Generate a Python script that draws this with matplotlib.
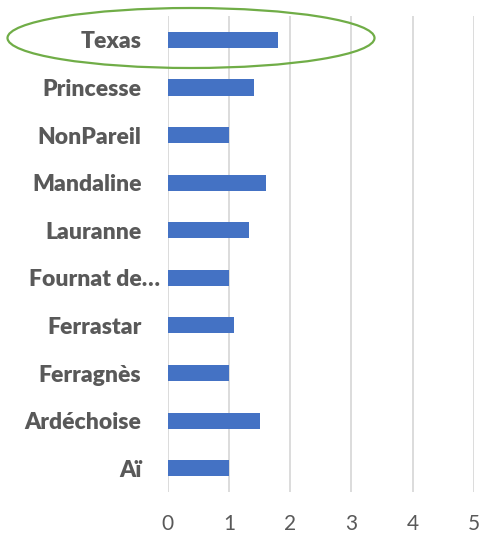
import matplotlib
matplotlib.use("Agg")
import matplotlib.pyplot as plt
from matplotlib.patches import Ellipse
from matplotlib.transforms import ScaledTranslation

# varieties, bottom to top
varieties = ["Aï", "Ardéchoise", "Ferragnès", "Ferrastar", "Fournat de…",
             "Lauranne", "Mandaline", "NonPareil", "Princesse", "Texas"]
values = [1.0, 1.5, 1.0, 1.08, 1.0, 1.33, 1.6, 1.0, 1.4, 1.8]
xticks = [0, 1, 2, 3, 4, 5]

plt.rcParams['font.family'] = ['Lato', 'DejaVu Sans']

fig = plt.figure(figsize=(4.81, 5.35), dpi=100)
ax = fig.add_axes([0.349, 0.0804, 0.636, 0.8896])

ax.barh(range(len(varieties)), values, height=0.34, color="#4472C4")
ax.set_xlim(0, 5)
ax.set_ylim(-0.5, len(varieties) - 0.5)
ax.set_xticks(xticks)
ax.set_yticks(range(len(varieties)))
ax.set_yticklabels(varieties, fontsize=16.5, fontweight="heavy", color="#595959")
ax.set_xticklabels([str(t) for t in xticks], fontsize=15, color="#595959")
ax.tick_params(length=0)
ax.tick_params(axis="y", pad=19)
ax.tick_params(axis="x", pad=16)
ax.grid(axis="x", color="#D9D9D9", linewidth=1.3)
ax.set_axisbelow(True)
for s in ax.spines.values():
    s.set_visible(False)

# the truncated label sits a bit further right, as in excel
for lab in ax.get_yticklabels():
    if lab.get_text().endswith("…"):
        lab.set_transform(lab.get_transform() + ScaledTranslation(0.19, 0, fig.dpi_scale_trans))

# green highlight round Texas
ell = Ellipse((191 / 481, 1 - 38 / 535), 367 / 481, 60 / 535,
              transform=fig.transFigure, fill=False, edgecolor="#70AD47",
              linewidth=1.6, clip_on=False)
fig.patches.append(ell)

fig.savefig("out.png", dpi=100)
